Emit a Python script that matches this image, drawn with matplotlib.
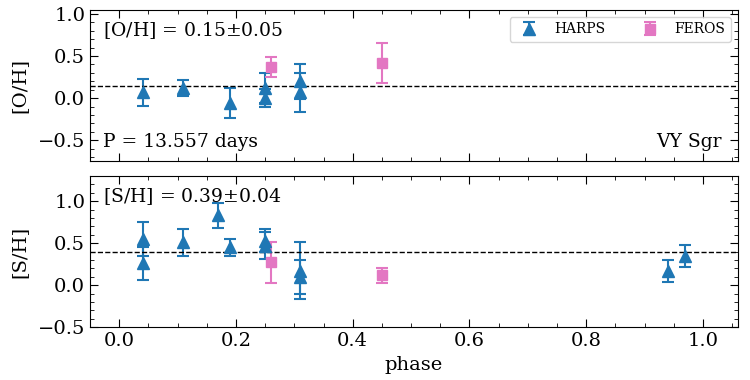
import numpy as np
import matplotlib
matplotlib.use('Agg')
import matplotlib.pyplot as plt

plt.rcParams['font.family'] = 'DejaVu Serif'
plt.rcParams['mathtext.fontset'] = 'dejavuserif'

# [O/H] panel
oh_harps_phase = [0.04, 0.11, 0.19, 0.25, 0.25, 0.31, 0.31]
oh_harps_val   = [0.07, 0.12, -0.06, 0.12, 0.00, 0.20, 0.07]
oh_harps_err   = [0.16, 0.09, 0.18, 0.18, 0.11, 0.21, 0.23]
oh_feros_phase = [0.26, 0.45]
oh_feros_val   = [0.37, 0.42]
oh_feros_err   = [0.12, 0.24]
oh_mean = 0.15

# [S/H] panel
sh_harps_phase = [0.04, 0.04, 0.11, 0.17, 0.19, 0.25, 0.25, 0.31, 0.31, 0.94, 0.97]
sh_harps_val   = [0.55, 0.26, 0.51, 0.83, 0.45, 0.53, 0.47, 0.17, 0.10, 0.17, 0.35]
sh_harps_err   = [0.20, 0.20, 0.16, 0.15, 0.10, 0.14, 0.16, 0.34, 0.20, 0.13, 0.13]
sh_feros_phase = [0.26, 0.45]
sh_feros_val   = [0.27, 0.12]
sh_feros_err   = [0.24, 0.09]
sh_mean = 0.39

blue = '#1f77b4'
pink = '#e377c2'

fig = plt.figure(figsize=(7.5, 3.8), dpi=100)
ax1 = fig.add_axes([0.12, 0.576, 0.864, 0.398])
ax2 = fig.add_axes([0.12, 0.139, 0.864, 0.398], sharex=ax1)


def panel(ax, hp, hv, he, fp, fv, fe, mean):
    ax.errorbar(hp, hv, yerr=he, fmt='^', color=blue, ms=9, capsize=4,
                elinewidth=1.5, capthick=1.5, label='HARPS')
    ax.errorbar(fp, fv, yerr=fe, fmt='s', color=pink, ms=7, capsize=4,
                elinewidth=1.5, capthick=1.5, label='FEROS')
    ax.axhline(mean, color='k', ls='--', lw=1)
    ax.minorticks_on()
    ax.tick_params(which='both', direction='in', top=True, right=True, labelsize=14)
    ax.tick_params(which='major', length=6)
    ax.tick_params(which='minor', length=3)


panel(ax1, oh_harps_phase, oh_harps_val, oh_harps_err,
      oh_feros_phase, oh_feros_val, oh_feros_err, oh_mean)
panel(ax2, sh_harps_phase, sh_harps_val, sh_harps_err,
      sh_feros_phase, sh_feros_val, sh_feros_err, sh_mean)

ax1.set_xlim(-0.05, 1.06)
ax1.set_ylim(-0.75, 1.05)
ax2.set_ylim(-0.5, 1.3)
ax1.set_yticks([-0.5, 0.0, 0.5, 1.0])
ax2.set_yticks([-0.5, 0.0, 0.5, 1.0])
plt.setp(ax1.get_xticklabels(), visible=False)

ax1.set_ylabel('[O/H]', fontsize=14)
ax2.set_ylabel('[S/H]', fontsize=14)
ax2.set_xlabel('phase', fontsize=14)
ax1.yaxis.set_label_coords(-0.095, 0.5)
ax2.yaxis.set_label_coords(-0.095, 0.5)

ax1.text(0.02, 0.93, '[O/H] = 0.15$\\pm$0.05', transform=ax1.transAxes,
         fontsize=13.5, va='top')
ax1.text(0.02, 0.07, 'P = 13.557 days', transform=ax1.transAxes,
         fontsize=13.5, va='bottom')
ax1.text(0.975, 0.07, 'VY Sgr', transform=ax1.transAxes,
         fontsize=13.5, va='bottom', ha='right')
ax2.text(0.02, 0.93, '[S/H] = 0.39$\\pm$0.04', transform=ax2.transAxes,
         fontsize=13.5, va='top')

ax1.legend(loc='upper right', ncol=2, fontsize=10, columnspacing=2.2)

fig.savefig('out.png', dpi=100)
